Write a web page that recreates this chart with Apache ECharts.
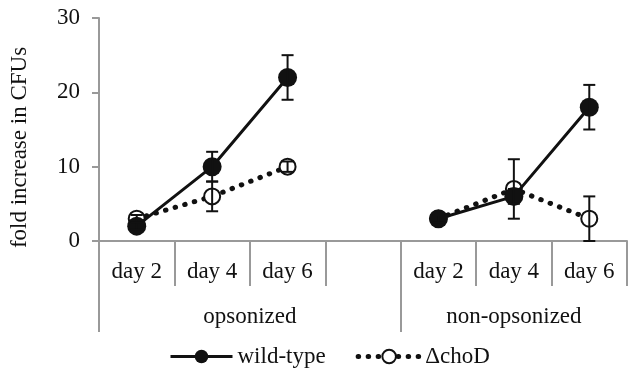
<!DOCTYPE html>
<html>
<head>
<meta charset="utf-8">
<script src="https://cdn.jsdelivr.net/npm/echarts@6/dist/echarts.min.js"></script>
<style>html,body{margin:0;padding:0;background:#fff}#c{width:630px;height:371px}</style>
</head>
<body>
<div id="c"></div>
<script>
const categories = ['day 2', 'day 4', 'day 6', '', 'day 2', 'day 4', 'day 6'];
const groups = ['opsonized', 'non-opsonized'];
const wildType = [2, 10, 22, null, 3, 6, 18];
const wildTypeErr = [0.5, 2, 3, null, 0.5, 1, 3];
const choD = [3, 6, 10, null, 3, 7, 3];
const choDErr = [0.5, 2, 0.7, null, 0.5, 4, 3];
const yTicks = [0, 10, 20, 30];

const FONT = 'Liberation Serif, Times New Roman, serif';
const TXT = '#111';
const AXIS = '#999';
const FS = 23;

// half-step category axis used for the group labels
const groupAxis = [];
for (let i = 0; i < 15; i++) groupAxis.push('');
groupAxis[4] = groups[0];
groupAxis[11] = groups[1];

function errData(vals, errs) {
  const out = [];
  vals.forEach((v, i) => { if (v != null) out.push([i, v - errs[i], v + errs[i]]); });
  return out;
}

function errRender(params, api) {
  const x = api.value(0);
  const lo = api.coord([x, api.value(1)]);
  const hi = api.coord([x, api.value(2)]);
  const w = 6;
  const style = { stroke: '#111', lineWidth: 2, fill: null };
  return {
    type: 'group',
    children: [
      { type: 'line', shape: { x1: lo[0], y1: lo[1], x2: hi[0], y2: hi[1] }, style },
      { type: 'line', shape: { x1: lo[0] - w, y1: lo[1], x2: lo[0] + w, y2: lo[1] }, style },
      { type: 'line', shape: { x1: hi[0] - w, y1: hi[1], x2: hi[0] + w, y2: hi[1] }, style }
    ]
  };
}

const dotted = { color: '#111', width: 5, type: [0.5, 9.5], cap: 'round' };

const chart = echarts.init(document.getElementById('c'), null, { renderer: 'canvas' });
chart.setOption({
  animation: false,
  backgroundColor: '#fff',
  textStyle: { fontFamily: FONT, color: TXT },
  grid: { left: 98, right: 0, top: 18, bottom: 130, containLabel: false },
  legend: {
    data: [
      { name: 'wild-type', lineStyle: { color: '#111', width: 3 } },
      { name: 'ΔchoD', lineStyle: { color: '#111', width: 5, type: [0.5, 9.5], cap: 'round' } }
    ],
    left: 164, top: 340,
    itemWidth: 62, itemHeight: 17, itemGap: 30,
    textStyle: { fontFamily: FONT, fontSize: FS, color: TXT }
  },
  xAxis: [
    {
      type: 'category', data: categories, position: 'bottom', boundaryGap: true,
      axisLine: { show: true, lineStyle: { color: AXIS, width: 2 } },
      axisTick: { show: true, interval: 0, length: 45, lineStyle: { color: AXIS, width: 2 } },
      axisLabel: { interval: 0, margin: 19, fontSize: FS, color: TXT, fontFamily: FONT },
      splitLine: { show: false }
    },
    {
      type: 'category', data: groupAxis, position: 'bottom', boundaryGap: false, offset: 0,
      axisLine: { show: false },
      axisTick: { show: true, interval: (i) => i === 0 || i === 8, length: 91, lineStyle: { color: AXIS, width: 2 } },
      axisLabel: { interval: 0, margin: 64, fontSize: FS, color: TXT, fontFamily: FONT },
      splitLine: { show: false }
    }
  ],
  yAxis: {
    type: 'value', min: 0, max: 30, interval: 10,
    name: 'fold increase in CFUs', nameLocation: 'middle', nameGap: 68,
    nameTextStyle: { fontFamily: FONT, fontSize: FS, color: TXT, padding: [0, 36, 0, 0] },
    axisLine: { show: true, lineStyle: { color: AXIS, width: 2 } },
    axisTick: { show: true, length: 7, lineStyle: { color: AXIS, width: 2 } },
    axisLabel: { margin: 19, fontSize: FS, color: TXT, fontFamily: FONT,
      formatter: (v) => yTicks.includes(v) ? String(v) : '' },
    splitLine: { show: false }
  },
  series: [
    {
      name: 'ΔchoD', type: 'line', data: choD, connectNulls: false,
      symbol: 'circle', symbolSize: 16,
      itemStyle: { color: '#fff', borderColor: '#111', borderWidth: 2 },
      lineStyle: dotted,
      z: 2
    },
    {
      name: 'wild-type', type: 'line', data: wildType, connectNulls: false,
      symbol: 'circle', symbolSize: 19,
      itemStyle: { color: '#111', borderColor: '#111', borderWidth: 0 },
      lineStyle: { color: '#111', width: 3 },
      z: 3
    },
    {
      type: 'custom', name: 'errChoD', data: errData(choD, choDErr), renderItem: errRender, z: 4, silent: true
    },
    {
      type: 'custom', name: 'errWT', data: errData(wildType, wildTypeErr), renderItem: errRender, z: 4, silent: true
    }
  ]
});
</script>
</body>
</html>
